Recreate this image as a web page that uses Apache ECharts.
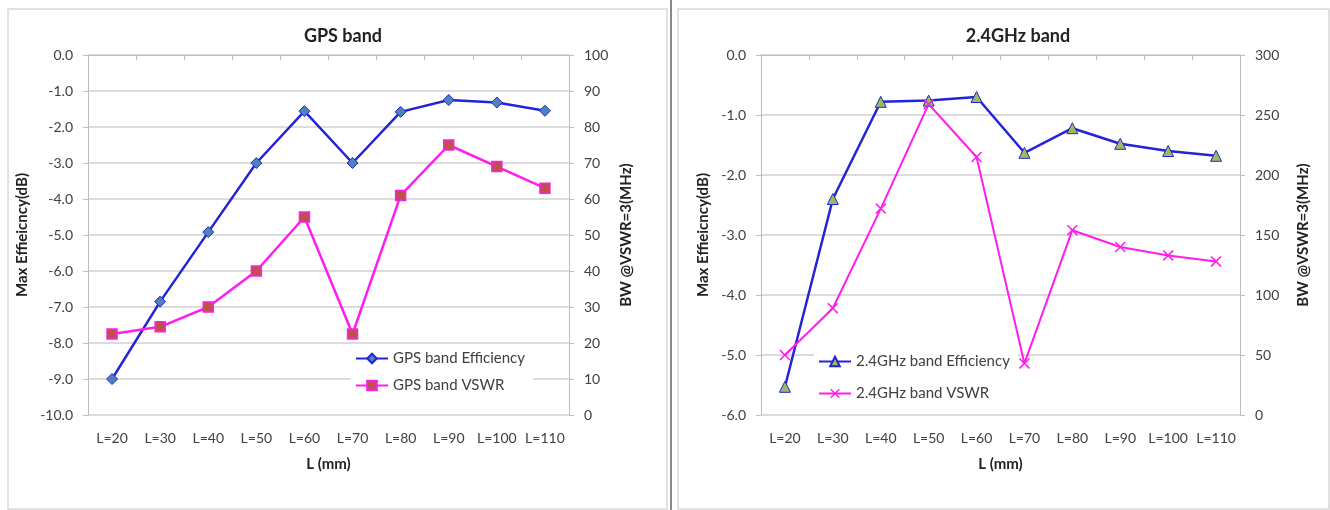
<!DOCTYPE html>
<html><head><meta charset="utf-8">
<script src="https://cdn.jsdelivr.net/npm/echarts@6/dist/echarts.min.js"></script>
<style>html,body{margin:0;padding:0;background:#fff}#c{width:1330px;height:510px}</style>
</head><body><div id="c"></div>
<script>
const categories = ['L=20','L=30','L=40','L=50','L=60','L=70','L=80','L=90','L=100','L=110'];
const gpsEfficiency = [-9.0,-6.85,-4.92,-3.0,-1.56,-3.0,-1.58,-1.25,-1.32,-1.55];
const gpsVswr = [22.5,24.5,30,40,55,22.5,61,75,69,63];
const wifiEfficiency = [-5.53,-2.4,-0.78,-0.76,-0.7,-1.63,-1.22,-1.48,-1.6,-1.68];
const wifiVswr = [50,89,172,259,215,43,154,140,133,128];

const FONT = 'Lato';
const txt = '#404040';
const gridC = '#d0d0d0';
const chart = echarts.init(document.getElementById('c'));
const xSym = 'path://M1,0 L5,4 L9,0 L10,1 L6,5 L10,9 L9,10 L5,6 L1,10 L0,9 L4,5 L0,1 Z';

function xAx(gi){
  return {type:'category', gridIndex:gi, data:categories, boundaryGap:true,
    name:'L (mm)', nameLocation:'middle', nameGap:42,
    nameTextStyle:{fontFamily:FONT,fontWeight:'bold',fontSize:15,color:'#222'},
    axisLine:{lineStyle:{color:'#bdbdbd',width:1}},
    axisTick:{show:true,alignWithLabel:false,length:5,lineStyle:{color:'#bdbdbd'}},
    axisLabel:{fontFamily:FONT,fontSize:14,color:txt,margin:16,interval:0},
    splitLine:{show:false}};
}
function yAx(gi,min,max,interval,pos,name,gap,fmt){
  return {type:'value', gridIndex:gi, min:min, max:max, interval:interval, position:pos,
    name:name, nameLocation:'middle', nameRotate:90, nameGap:gap,
    nameTextStyle:{fontFamily:FONT,fontWeight:'bold',fontSize:15,color:'#222'},
    axisLine:{show:true,lineStyle:{color:'#bdbdbd'}},
    axisTick:{show:true,length:5,lineStyle:{color:'#bdbdbd'}},
    axisLabel:{fontFamily:FONT,fontSize:14,color:txt,margin:15,formatter:fmt},
    splitLine:{show:pos==='left',lineStyle:{color:gridC,width:1.5}}};
}
const f1 = v=>v.toFixed(1);
const f0 = v=>String(v);

chart.setOption({
  animation:false,
  backgroundColor:'#fff',
  graphic:[
    {type:'rect',shape:{x:8,y:9,width:659,height:500},style:{fill:'none',stroke:'#d8d8d8',lineWidth:1.5}},
    {type:'rect',shape:{x:678,y:9,width:651,height:500},style:{fill:'none',stroke:'#d8d8d8',lineWidth:1.5}},
    {type:'line',shape:{x1:671,y1:0,x2:671,y2:510},style:{stroke:'#8a8a8a',lineWidth:2}}
  ],
  title:[
    {text:'GPS band',left:338,top:22,textAlign:'center',textStyle:{fontFamily:FONT,fontWeight:'bold',fontSize:18,color:'#222'}},
    {text:'2.4GHz band',left:1013,top:22,textAlign:'center',textStyle:{fontFamily:FONT,fontWeight:'bold',fontSize:18,color:'#222'}}
  ],
  grid:[
    {left:88,top:55,width:481,height:360},
    {left:761,top:55,width:479,height:360}
  ],
  legend:[
    {orient:'vertical',left:351,top:347,itemGap:12,itemWidth:32,itemHeight:12,backgroundColor:'#fff',padding:[4,8,4,4],
     data:['GPS band Efficiency','GPS band VSWR'],textStyle:{fontFamily:FONT,fontSize:15,color:txt}},
    {orient:'vertical',left:814,top:350,itemGap:17,itemWidth:32,itemHeight:12,backgroundColor:'#fff',padding:[4,8,4,4],
     data:['2.4GHz band Efficiency','2.4GHz band VSWR'],textStyle:{fontFamily:FONT,fontSize:15,color:txt}}
  ],
  xAxis:[xAx(0),xAx(1)],
  yAxis:[
    yAx(0,-10,0,1,'left','Max Effieicncy(dB)',58,f1),
    yAx(0,0,100,10,'right','BW @VSWR=3(MHz)',50,f0),
    yAx(1,-6,0,1,'left','Max Effieicncy(dB)',50,f1),
    yAx(1,0,300,50,'right','BW @VSWR=3(MHz)',56,f0)
  ],
  series:[
    {name:'GPS band Efficiency',type:'line',xAxisIndex:0,yAxisIndex:0,data:gpsEfficiency,
     symbol:'diamond',symbolSize:11,lineStyle:{color:'#2323d8',width:2.5},
     itemStyle:{color:'#4f81bd',borderColor:'#2323d8',borderWidth:1}},
    {name:'GPS band VSWR',type:'line',xAxisIndex:0,yAxisIndex:1,data:gpsVswr,
     symbol:'rect',symbolSize:10,lineStyle:{color:'#ff1cf0',width:2.5},
     itemStyle:{color:'#c0504d',borderColor:'#ff1cf0',borderWidth:1.5}},
    {name:'2.4GHz band Efficiency',type:'line',xAxisIndex:1,yAxisIndex:2,data:wifiEfficiency,
     symbol:'triangle',symbolSize:11,lineStyle:{color:'#2323d8',width:2.5},
     itemStyle:{color:'#9bbb59',borderColor:'#2323d8',borderWidth:1}},
    {name:'2.4GHz band VSWR',type:'line',xAxisIndex:1,yAxisIndex:3,data:wifiVswr,
     symbol:xSym,symbolSize:11,lineStyle:{color:'#ff1cf0',width:2},
     itemStyle:{color:'#ff1cf0'}}
  ]
});
</script></body></html>
